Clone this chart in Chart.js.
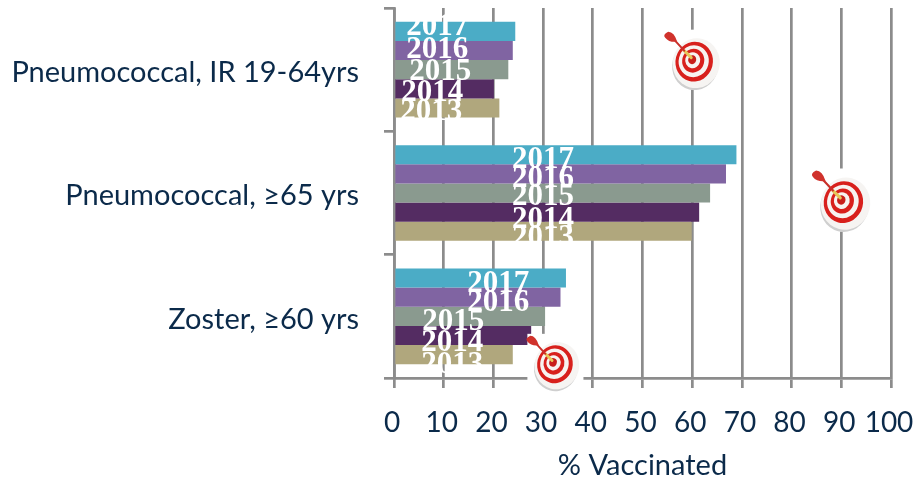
<!DOCTYPE html>
<html>
<head>
<meta charset="utf-8">
<style>
html, body { margin: 0; padding: 0; background: #fff; }
#wrap { width: 915px; height: 479px; }
</style>
<script src="https://cdn.jsdelivr.net/npm/chart.js@4"></script>
</head>
<body>
<div id="wrap"><canvas id="vaccineChart" width="915" height="479"></canvas></div>
<script>
// data
const categories = ['Pneumococcal, IR 19-64yrs', 'Pneumococcal, \u226565 yrs', 'Zoster, \u226560 yrs'];
const seriesNames = ['2017', '2016', '2015', '2014', '2013'];
const values2017 = [24.4, 68.9, 34.6];
const values2016 = [23.9, 66.8, 33.5];
const values2015 = [23.0, 63.6, 30.4];
const values2014 = [20.1, 61.4, 27.6];
const values2013 = [21.2, 59.9, 23.9];
const targetValues = [60, 90, 32];
const xTicks = [0, 10, 20, 30, 40, 50, 60, 70, 80, 90, 100];
const axisTitle = '% Vaccinated';

const seriesValues = [values2017, values2016, values2015, values2014, values2013];
const seriesColors = ['#4BACC6', '#8064A2', '#8A9A8F', '#542C62', '#B0A77D'];

const inkColor = '#0B2A4A';
const gridColor = '#8C8C8C';

// white year labels sit where they were dropped by hand, not at the bar centres
const yearLabels = {
    id: 'yearLabels',
    afterDatasetsDraw(chart, args, opts) {
        const ctx = chart.ctx;
        const xScale = chart.scales.x;
        ctx.save();
        ctx.fillStyle = '#fff';
        ctx.font = 'bold 31px "Liberation Serif"';
        ctx.textAlign = 'center';
        ctx.textBaseline = 'middle';
        chart.data.datasets.forEach((ds, d) => {
            chart.getDatasetMeta(d).data.forEach((bar, c) => {
                const x = xScale.getPixelForValue(opts.centers[c][d]);
                ctx.fillText(ds.label, x, bar.y + opts.shifts[c][d] + 2.5);
            });
        });
        ctx.restore();
    }
};

function drawTarget(ctx, cx, cy, k) {
    // white patch of the pasted picture, hides the grid behind it
    ctx.fillStyle = '#fff';
    ctx.fillRect(cx - 27 * k, cy - 30 * k, 59 * k, 60 * k);

    ctx.save();
    ctx.translate(cx, cy);
    ctx.scale(k, k);

    // board, seen at an angle so the rings drift off its centre
    ctx.fillStyle = '#CFCFCF';
    ctx.beginPath(); ctx.ellipse(3, 6, 23, 24.5, 0.25, 0, Math.PI * 2); ctx.fill();
    ctx.fillStyle = '#F6F4F2';
    ctx.beginPath(); ctx.ellipse(4, 3.5, 23.5, 25, 0.25, 0, Math.PI * 2); ctx.fill();

    const rings = [
        [2, 2, 18.7, 20, '#D8201C'],
        [1.5, 1.5, 15, 16, '#F7F3F0'],
        [1, 1, 11, 12, '#D8201C'],
        [0.5, 0.5, 7.5, 8, '#F7F3F0'],
        [0, 0, 4, 4.5, '#C81E1A']
    ];
    rings.forEach(r => {
        ctx.fillStyle = r[4];
        ctx.beginPath(); ctx.ellipse(r[0], r[1], r[2], r[3], 0.25, 0, Math.PI * 2); ctx.fill();
    });

    // dart
    ctx.lineCap = 'round';
    ctx.strokeStyle = '#E6C65A';
    ctx.lineWidth = 3;
    ctx.beginPath(); ctx.moveTo(-1, -2); ctx.lineTo(-8, -9); ctx.stroke();
    ctx.strokeStyle = '#C8302A';
    ctx.lineWidth = 2;
    ctx.beginPath(); ctx.moveTo(-8, -9); ctx.lineTo(-19, -21); ctx.stroke();
    ctx.fillStyle = '#D0322C';
    ctx.beginPath();
    ctx.moveTo(-15, -18);
    ctx.quadraticCurveTo(-18, -28, -24, -28);
    ctx.quadraticCurveTo(-30, -25, -27, -22);
    ctx.quadraticCurveTo(-23, -17, -15, -18);
    ctx.closePath();
    ctx.fill();
    ctx.restore();
}

const targetIcons = {
    id: 'targetIcons',
    afterDraw(chart, args, opts) {
        const ctx = chart.ctx;
        const xScale = chart.scales.x;
        const yScale = chart.scales.y;
        targetValues.forEach((v, i) => {
            const x = xScale.getPixelForValue(v);
            const y = yScale.getPixelForValue(i) + opts.shifts[i];
            drawTarget(ctx, x, y, opts.sizes[i]);
        });
    }
};

new Chart(document.getElementById('vaccineChart').getContext('2d'), {
    type: 'bar',
    data: {
        labels: categories,
        datasets: seriesNames.map((name, i) => ({
            label: name,
            data: seriesValues[i],
            backgroundColor: seriesColors[i],
            barPercentage: 1,
            categoryPercentage: 0.776
        }))
    },
    options: {
        indexAxis: 'y',
        responsive: false,
        animation: false,
        layout: { padding: { top: 8, right: 24, left: 0, bottom: 0 } },
        plugins: {
            legend: { display: false },
            tooltip: { enabled: false },
            yearLabels: {
                centers: [
                    [8.7, 8.7, 9.3, 7.7, 7.5],
                    [30, 30, 30, 30, 30],
                    [21, 21, 11.9, 11.7, 11.7]
                ],
                shifts: [
                    [-7, -3, 0, 1.5, 2],
                    [2.5, 3, 1, 5, 4],
                    [3, 3, 3, 5, 8]
                ]
            },
            targetIcons: {
                shifts: [-10, 7, 46],
                sizes: [1, 1.05, 0.95]
            }
        },
        scales: {
            x: {
                min: 0,
                max: 100,
                afterFit: scale => {
                    scale.height = 101;
                    scale.paddingLeft = 0;
                    scale.paddingRight = 0;
                },
                afterBuildTicks: scale => { scale.ticks = xTicks.map(v => ({ value: v })); },
                grid: { color: gridColor, lineWidth: 2.7, tickLength: 10, tickColor: gridColor, tickWidth: 2.7 },
                border: { display: true, color: gridColor, width: 2.7 },
                ticks: {
                    color: inkColor,
                    font: { family: 'Lato', size: 28 },
                    padding: 18,
                    labelOffset: -2,
                    maxRotation: 0,
                    autoSkip: false
                },
                title: {
                    display: true,
                    text: axisTitle,
                    color: inkColor,
                    font: { family: 'Lato', size: 29 },
                    padding: { top: 4, bottom: -4 }
                }
            },
            y: {
                afterFit: scale => {
                    scale.width = 394;
                    scale.paddingTop = 0;
                    scale.paddingBottom = 0;
                },
                grid: { drawOnChartArea: false, color: gridColor, lineWidth: 2.7, tickLength: 10, tickColor: gridColor, tickWidth: 2.7 },
                border: { display: true, color: gridColor, width: 2.7 },
                ticks: {
                    color: inkColor,
                    font: { family: 'Lato', size: 29 },
                    padding: 25,
                    labelOffset: 3,
                    autoSkip: false
                }
            }
        }
    },
    plugins: [yearLabels, targetIcons]
});
</script>
</body>
</html>
